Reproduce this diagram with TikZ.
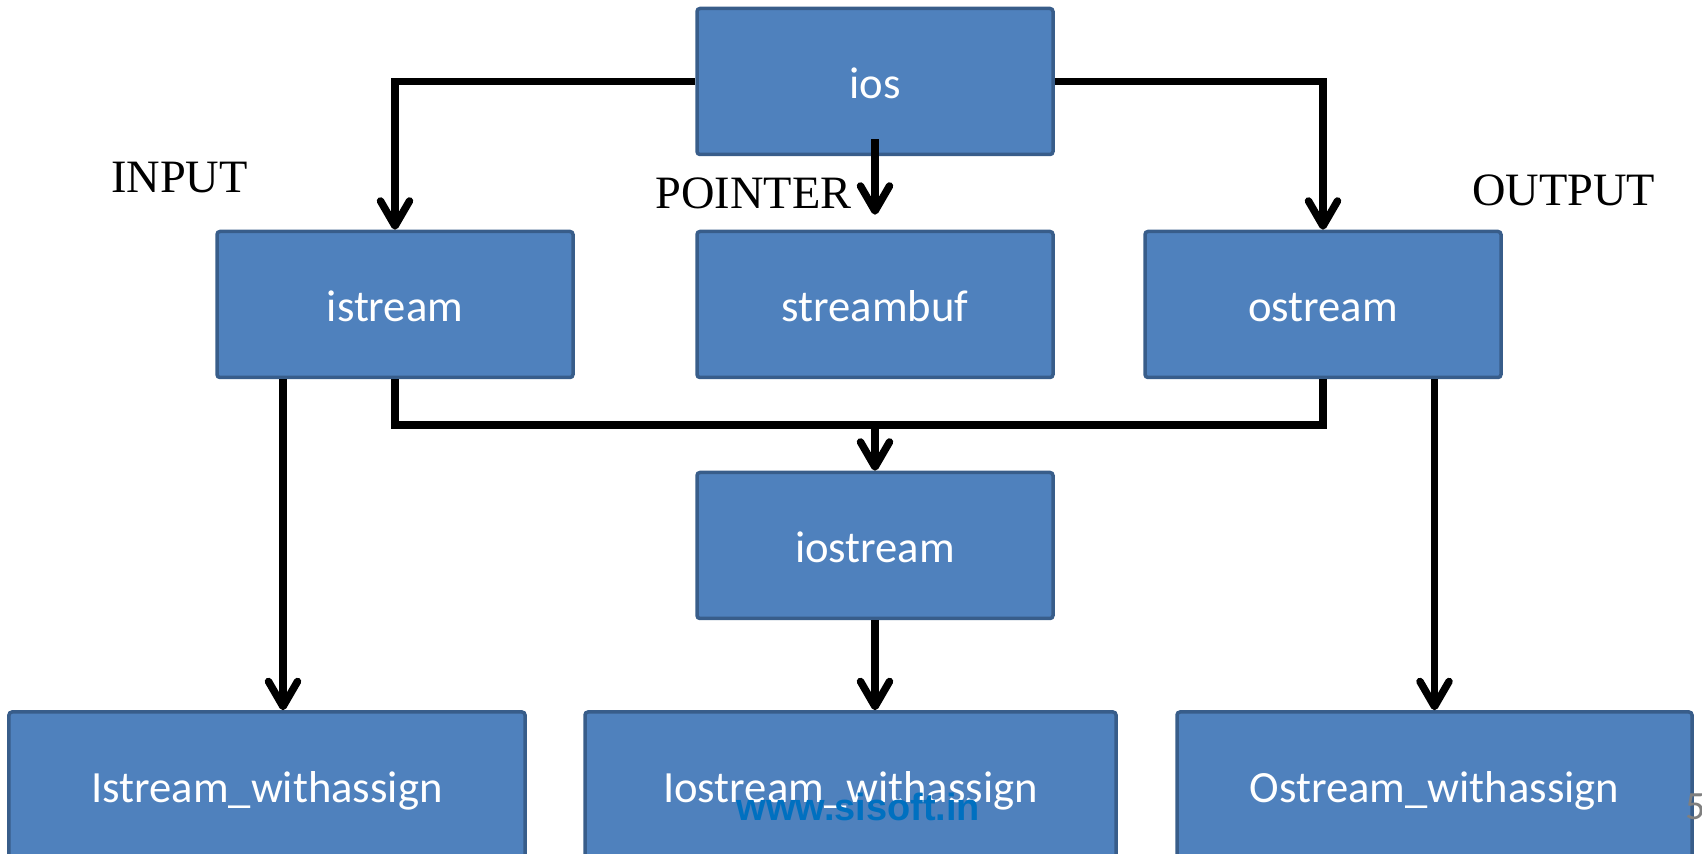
\documentclass[tikz,border=0pt]{standalone}
\usepackage{fontspec}
\newfontfamily\boxfont{Carlito}
\newfontfamily\labelfont{Liberation Serif}
\newfontfamily\webfont{Liberation Sans}
\definecolor{IOSblue}{HTML}{4F81BD}
\definecolor{IOSedge}{HTML}{385D8A}
\definecolor{IOSweb}{HTML}{0070C0}
\definecolor{IOSgray}{HTML}{7F7F7F}
\usetikzlibrary{arrows.meta, calc, positioning}

\tikzset{
   cls/.style={draw=IOSedge, fill=IOSblue, line width=0.035cm, rounded corners=0.03cm,
      minimum width=3.56cm, minimum height=1.46cm, inner sep=0pt,
      text=white, text height=0.45cm, text depth=0.1cm,
      font=\boxfont\fontsize{12.7}{15}\selectfont},
   tag/.style={inner sep=0pt, font=\labelfont\fontsize{13.2}{16}\selectfont},
   wire/.style={black, line width=0.075cm},
   link/.style={wire, -{Straight Barb[length=0.25cm, width=0.29cm, round]}}
}

\begin{document}
\begin{tikzpicture}
   \useasboundingbox (0,0) rectangle (17.02,8.54);
   \clip (0,0) rectangle (17.02,8.54);
   % Class boxes
   \node[cls] (ios)       at (8.75,7.725)  {ios};
   \node[cls] (istream)   at (3.95,5.495)  {istream};
   \node[cls] (streambuf) at (8.75,5.495)  {streambuf};
   \node[cls] (ostream)   at (13.23,5.495) {ostream};
   \node[cls] (iostream)  at (8.75,3.085)  {iostream};
   \node[cls, minimum width=5.16cm] (Iw)  at (2.67,0.69)   {Istream\_withassign};
   \node[cls, minimum width=5.31cm] (Iow) at (8.505,0.69)  {Iostream\_withassign};
   \node[cls, minimum width=5.15cm] (Ow)  at (14.345,0.69) {Ostream\_withassign};
   % Labels
   \node[tag] (input)   at (1.795,6.765) {INPUT};
   \node[tag] (pointer) at (7.535,6.61)  {POINTER};
   \node[tag] (output)  at (15.635,6.64) {OUTPUT};
   % ios to its children
   \draw[link] (ios.west) -| (istream.north);
   \draw[link] (ios.east) -| (ostream.north);
   \draw[link] ([yshift=0.17cm]ios.south) -- ([yshift=0.15cm]streambuf.north);
   % istream + ostream into iostream
   \coordinate (join) at (8.75,4.29);
   \draw[wire] (istream.south) |- (join) -| (ostream.south);
   \draw[link] (join) -- (iostream.north);
   % withassign classes
   \coordinate (inL) at ([xshift=0.16cm]Iw.north);
   \draw[link] (inL |- istream.south) -- (inL);
   \draw[link] (iostream.south) -- (iostream.south |- Iow.north);
   \draw[link] (Ow.north |- ostream.south) -- (Ow.north);
   % Footer
   \node[text=IOSweb, inner sep=0pt, font=\webfont\bfseries\fontsize{10.8}{13}\selectfont]
      (web) at (8.585,0.47) {www.sisoft.in};
   \node[text=IOSgray, anchor=west, inner sep=0pt, font=\boxfont\fontsize{11.4}{14}\selectfont]
      (page) at (16.85,0.47) {5};
\end{tikzpicture}
\end{document}
